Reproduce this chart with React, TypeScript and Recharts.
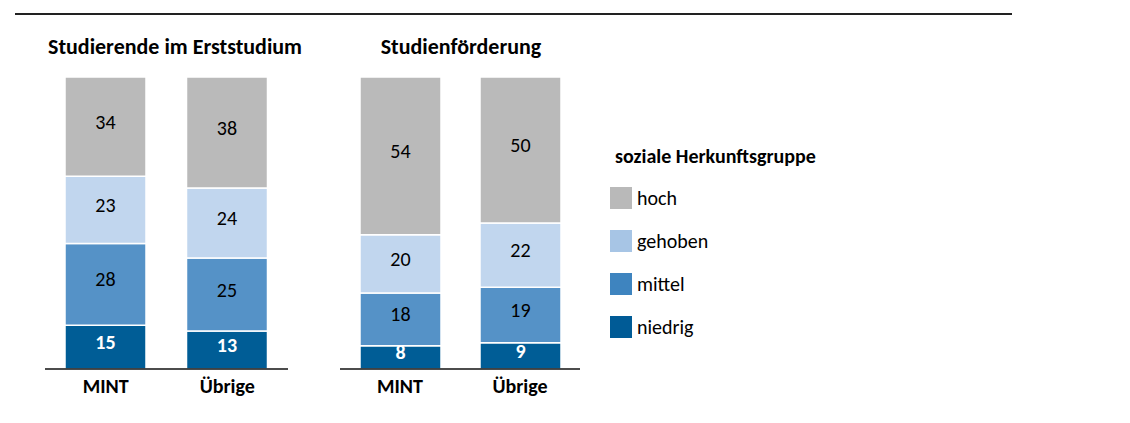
import React from 'react';
import { BarChart, Bar, XAxis, YAxis, LabelList } from 'recharts';

const categories = ['MINT', 'Übrige'];

// Studierende im Erststudium
const erstHoch = [34, 38];
const erstGehoben = [23, 24];
const erstMittel = [28, 25];
const erstNiedrig = [15, 13];

// Studienförderung
const foerdHoch = [54, 50];
const foerdGehoben = [20, 22];
const foerdMittel = [18, 19];
const foerdNiedrig = [8, 9];

const seriesNames = ['hoch', 'gehoben', 'mittel', 'niedrig'];
const barColors: Record<string, string> = {
  hoch: '#bababa',
  gehoben: '#c1d6ee',
  mittel: '#5592c7',
  niedrig: '#005d96',
};
const legendColors: Record<string, string> = {
  hoch: '#b9b9b9',
  gehoben: '#a7c5e5',
  mittel: '#3e84bf',
  niedrig: '#005b96',
};

const FONT = 'Carlito, Lato, "Liberation Sans", sans-serif';

const buildRows = (hoch: number[], gehoben: number[], mittel: number[], niedrig: number[]) =>
  categories.map((name, i) => ({
    name,
    hoch: hoch[i],
    gehoben: gehoben[i],
    mittel: mittel[i],
    niedrig: niedrig[i],
  }));

const erstData = buildRows(erstHoch, erstGehoben, erstMittel, erstNiedrig);
const foerdData = buildRows(foerdHoch, foerdGehoben, foerdMittel, foerdNiedrig);

// stacked bottom to top
const stackOrder = ['niedrig', 'mittel', 'gehoben', 'hoch'];

interface PanelProps {
  data: any[];
  left: number;
  width: number;
  marginLeft: number;
  marginRight: number;
}

const Panel: React.FC<PanelProps> = ({ data, left, width, marginLeft, marginRight }) => (
  <div style={{ position: 'absolute', left, top: 0 }}>
    <BarChart
      width={width}
      height={423}
      data={data}
      margin={{ top: 77, left: marginLeft, right: marginRight, bottom: 24 }}
    >
      <YAxis hide domain={[0, 100]} type="number" />
      <XAxis
        dataKey="name"
        height={30}
        axisLine={{ stroke: '#111', strokeWidth: 1.5 }}
        tickLine={false}
        tickSize={0}
        tickMargin={10}
        tick={{ fill: '#000', fontSize: 20, fontWeight: 700, fontFamily: FONT }}
      />
      {stackOrder.map((key) => (
        <Bar
          key={key}
          dataKey={key}
          stackId="a"
          fill={barColors[key]}
          stroke="#fff"
          strokeWidth={1.5}
          barSize={81}
          isAnimationActive={false}
        >
          <LabelList
            dataKey={key}
            position="center"
            dy={-5}
            fill={key === 'niedrig' ? '#fff' : '#000'}
            fontSize={20}
            fontWeight={key === 'niedrig' ? 700 : 400}
            fontFamily={FONT}
          />
        </Bar>
      ))}
    </BarChart>
  </div>
);

const titleStyle: React.CSSProperties = {
  position: 'absolute',
  top: 33,
  fontFamily: FONT,
  fontWeight: 700,
  fontSize: 22,
  lineHeight: '28px',
  color: '#000',
  whiteSpace: 'nowrap',
  transform: 'translateX(-50%)',
};

export default function App() {
  return (
    <div
      style={{
        position: 'absolute',
        left: 0,
        top: 0,
        width: 1130,
        height: 423,
        background: '#fff',
        overflow: 'hidden',
        fontFamily: FONT,
      }}
    >
      <div
        style={{ position: 'absolute', left: 15, top: 13, width: 997, height: 2, background: '#222' }}
      />
      <div style={{ ...titleStyle, left: 175 }}>Studierende im Erststudium</div>
      <div style={{ ...titleStyle, left: 461 }}>Studienförderung</div>

      <Panel data={erstData} left={0} width={300} marginLeft={45} marginRight={12} />
      <Panel data={foerdData} left={300} width={300} marginLeft={40} marginRight={20} />

      <div
        style={{
          position: 'absolute',
          left: 615,
          top: 143,
          fontWeight: 700,
          fontSize: 20,
          lineHeight: '26px',
          whiteSpace: 'nowrap',
        }}
      >
        soziale Herkunftsgruppe
      </div>
      {seriesNames.map((name, i) => (
        <div
          key={name}
          style={{
            position: 'absolute',
            left: 610,
            top: 187 + i * 43,
            display: 'flex',
            alignItems: 'center',
            height: 22,
          }}
        >
          <div style={{ width: 22, height: 22, background: legendColors[name] }} />
          <span style={{ marginLeft: 5, fontSize: 20, whiteSpace: 'nowrap' }}>{name}</span>
        </div>
      ))}
    </div>
  );
}
